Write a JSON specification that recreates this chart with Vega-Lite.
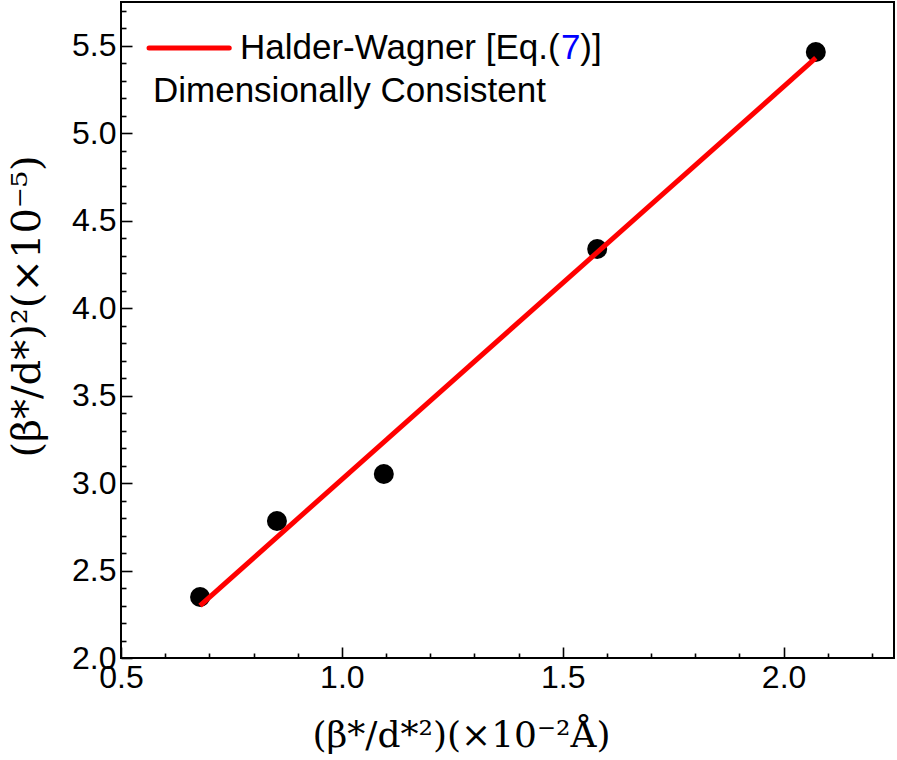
{
  "$schema": "https://vega.github.io/schema/vega-lite/v6.json",
  "width": 773,
  "height": 656,
  "autosize": "none",
  "padding": {"left": 121, "top": 2, "right": 3, "bottom": 102},
  "background": "white",
  "config": {
    "view": {"stroke": "black", "strokeWidth": 2},
    "font": "Liberation Sans",
    "axis": {
      "domain": false,
      "grid": false,
      "tickColor": "black",
      "tickWidth": 1.6,
      "labelColor": "black",
      "labelFont": "Liberation Sans",
      "labelFontSize": 32,
      "titleColor": "black",
      "titleFont": "DejaVu Serif",
      "titleFontSize": 36,
      "titleFontWeight": "normal"
    }
  },
  "resolve": {"axis": {"y": "independent"}},
  "datasets": {
    "points": [
      {"x": 0.679, "y": 2.349},
      {"x": 0.853, "y": 2.783},
      {"x": 1.095, "y": 3.052},
      {"x": 1.578, "y": 4.338},
      {"x": 2.073, "y": 5.464}
    ],
    "fit": [
      {"x": 0.679, "y": 2.30},
      {"x": 2.073, "y": 5.43}
    ],
    "one": [{}]
  },
  "layer": [
    {
      "data": {"name": "points"},
      "mark": {"type": "circle", "size": 400, "color": "black", "opacity": 1},
      "encoding": {
        "x": {
          "field": "x", "type": "quantitative",
          "scale": {"domain": [0.5, 2.25], "nice": false, "zero": false},
          "axis": {
            "title": "(β*/d*²)(×10⁻²Å)",
            "values": [0.5,0.6,0.7,0.8,0.9,1.0,1.1,1.2,1.3,1.4,1.5,1.6,1.7,1.8,1.9,2.0,2.1,2.2],
            "labelExpr": "abs(datum.value*2 - round(datum.value*2)) < 0.0001 ? format(datum.value, '.1f') : ''",
            "labelFontSize": {"condition": {"test": "abs(datum.value*2 - round(datum.value*2)) < 0.0001", "value": 32}, "value": 0},
            "tickSize": {"condition": {"test": "abs(datum.value*2 - round(datum.value*2)) < 0.0001", "value": -11}, "value": -5},
            "labelPadding": 15,
            "labelFlush": false,
            "labelOverlap": false,
            "titleX": 340,
            "titleY": 77,
            "titleBaseline": "middle",
            "titleAlign": "center"
          }
        },
        "y": {
          "field": "y", "type": "quantitative",
          "scale": {"domain": [2.0, 5.75], "nice": false, "zero": false},
          "axis": {
            "orient": "left",
            "title": "(β*/d*)²(×10⁻⁵)",
            "values": [2.0, 2.5, 3.0, 3.5, 4.0, 4.5, 5.0, 5.5],
            "format": ".1f",
            "tickSize": -11,
            "labelPadding": 16,
            "labelFlush": false,
            "labelOverlap": false,
            "titleX": -94,
            "titleY": 304,
            "titleAngle": -90,
            "titleFontSize": 40,
            "titleBaseline": "middle",
            "titleAlign": "center"
          }
        }
      }
    },
    {
      "data": {"name": "fit"},
      "mark": {"type": "line", "color": "#ff0000", "strokeWidth": 5, "strokeCap": "butt"},
      "encoding": {
        "x": {"field": "x", "type": "quantitative"},
        "y": {
          "field": "y", "type": "quantitative",
          "axis": {
            "orient": "left",
            "title": null,
            "labels": false,
            "tickSize": -5,
            "values": [2.1,2.2,2.3,2.4,2.6,2.7,2.8,2.9,3.1,3.2,3.3,3.4,3.6,3.7,3.8,3.9,4.1,4.2,4.3,4.4,4.6,4.7,4.8,4.9,5.1,5.2,5.3,5.4,5.6,5.7]
          }
        }
      }
    },
    {
      "data": {"name": "one"},
      "mark": {"type": "rule", "color": "#ff0000", "strokeWidth": 5, "strokeCap": "round"},
      "encoding": {
        "x": {"datum": 0.5635, "type": "quantitative"},
        "x2": {"datum": 0.745},
        "y": {"datum": 5.487, "type": "quantitative", "axis": null}
      }
    },
    {
      "data": {"name": "one"},
      "mark": {"type": "text", "align": "left", "baseline": "middle", "fontSize": 35, "font": "Liberation Sans", "color": "black", "text": "Halder-Wagner [Eq.("},
      "encoding": {
        "x": {"datum": 0.7694, "type": "quantitative"},
        "y": {"datum": 5.487, "type": "quantitative", "axis": null}
      }
    },
    {
      "data": {"name": "one"},
      "mark": {"type": "text", "align": "left", "baseline": "middle", "fontSize": 35, "font": "Liberation Sans", "color": "#0000ff", "text": "7"},
      "encoding": {
        "x": {"datum": 1.496, "type": "quantitative"},
        "y": {"datum": 5.487, "type": "quantitative", "axis": null}
      }
    },
    {
      "data": {"name": "one"},
      "mark": {"type": "text", "align": "left", "baseline": "middle", "fontSize": 35, "font": "Liberation Sans", "color": "black", "text": ")]"},
      "encoding": {
        "x": {"datum": 1.5399, "type": "quantitative"},
        "y": {"datum": 5.487, "type": "quantitative", "axis": null}
      }
    },
    {
      "data": {"name": "one"},
      "mark": {"type": "text", "align": "left", "baseline": "middle", "fontSize": 35, "font": "Liberation Sans", "color": "black", "text": "Dimensionally Consistent"},
      "encoding": {
        "x": {"datum": 0.5724, "type": "quantitative"},
        "y": {"datum": 5.244, "type": "quantitative", "axis": null}
      }
    }
  ]
}
